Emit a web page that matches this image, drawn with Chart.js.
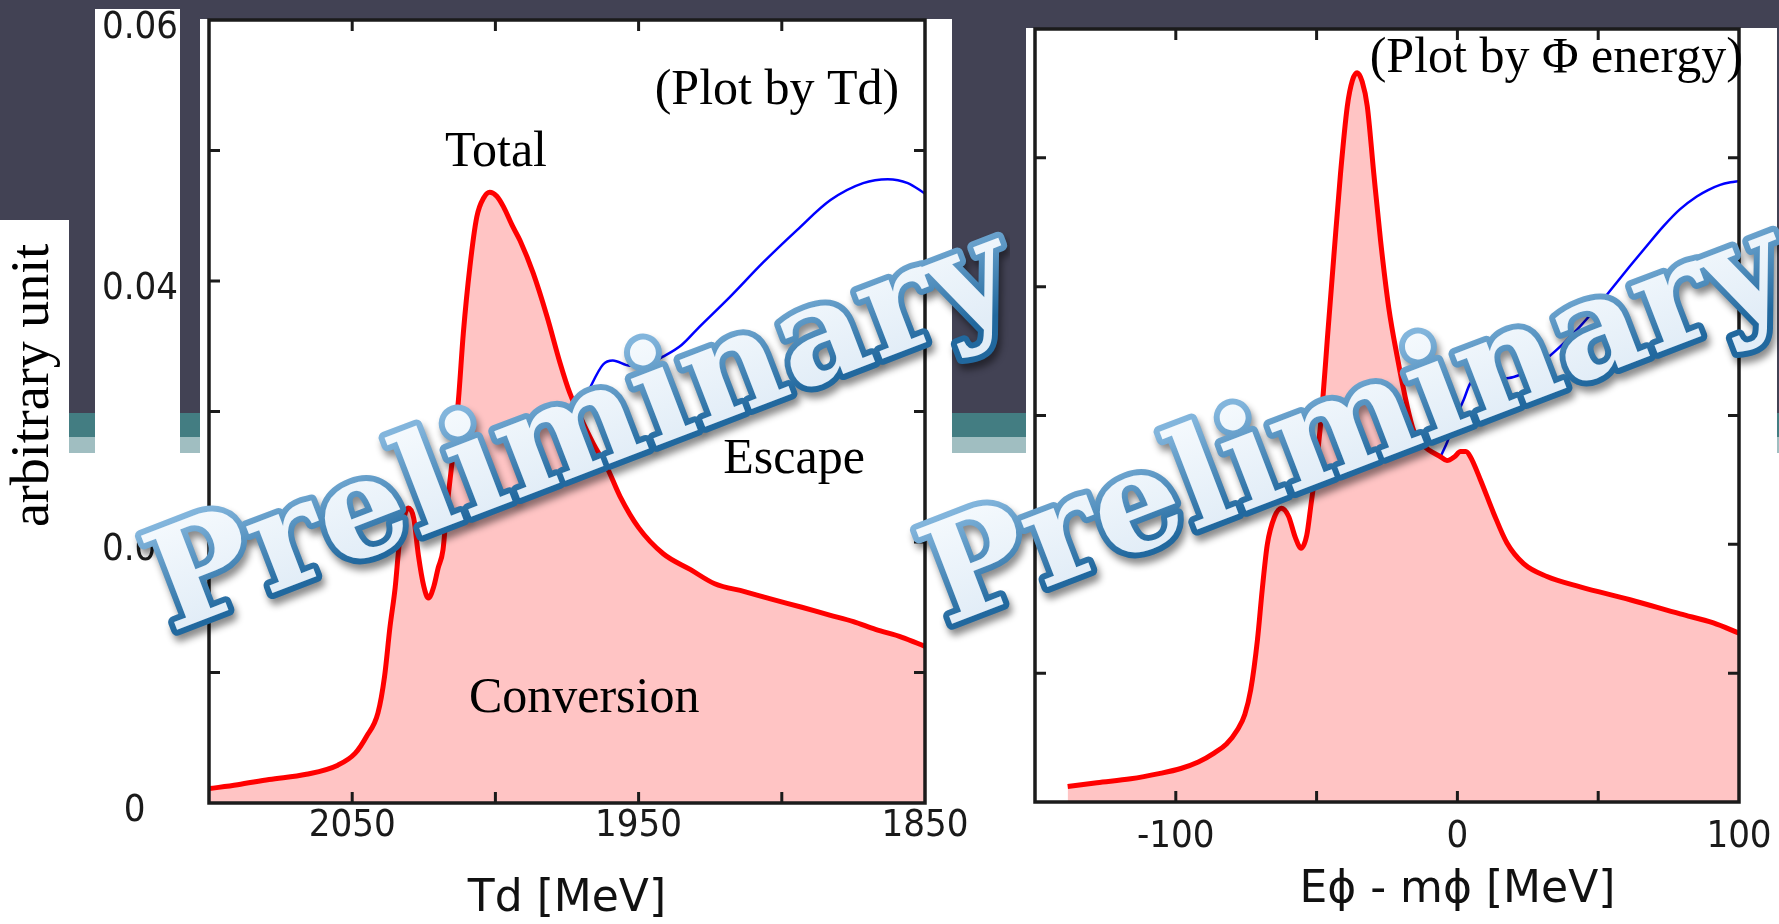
<!DOCTYPE html>
<html>
<head>
<meta charset="utf-8">
<title>Td / Phi energy spectra</title>
<script src="https://cdn.jsdelivr.net/npm/chart.js@4.4.1/dist/chart.umd.min.js"></script>
<style>
    html, body { margin: 0; padding: 0; background: #fff; }
    #slide { position: relative; width: 1779px; height: 924px; overflow: hidden; background: #fff; }
    .bg { position: absolute; }
    canvas { position: absolute; top: 0; }
</style>
</head>
<body>
<div id="slide">
    <div class="bg" style="left:0;top:0;width:1779px;height:413px;background:#424254"></div>
    <div class="bg" style="left:0;top:413px;width:1779px;height:24px;background:#437d82"></div>
    <div class="bg" style="left:0;top:437px;width:1779px;height:16px;background:#a0bec1"></div>
    <div class="bg" style="left:0;top:220px;width:69px;height:300px;background:#fff"></div>
    <div class="bg" style="left:95px;top:9px;width:85px;height:500px;background:#fff"></div>
    <div class="bg" style="left:200px;top:19px;width:752px;height:500px;background:#fff"></div>
    <div class="bg" style="left:1026px;top:28px;width:751px;height:500px;background:#fff"></div>
    <canvas id="td" width="1010" height="924" style="left:0"></canvas>
    <canvas id="phi" width="899" height="924" style="left:880px"></canvas>
</div>
<script>
// ---- left plot: by Td [MeV] (axis runs 2100 -> 1850)
const tdX = [2100, 2090, 2079, 2066, 2055, 2049, 2045, 2041, 2038.7, 2036.8, 2035, 2033.5, 2031.5, 2030.4,
    2028.5, 2026.9, 2025, 2023.4, 2021.5, 2020, 2018.3, 2017, 2015.3, 2012.9, 2011.2, 2008.9, 2006.5,
    2004, 2002, 1999.5, 1997.2, 1994, 1991.4, 1986.8, 1982, 1977.4, 1974, 1969.3, 1965, 1961.2, 1956.5,
    1950, 1941.4, 1932, 1923.4, 1913, 1903.3, 1893, 1883.3, 1875, 1867.3, 1858, 1850];
const tdConversion = [0.0011, 0.0014, 0.0018, 0.0022, 0.0029, 0.0038, 0.0051, 0.0069, 0.0097, 0.0135,
    0.0165, 0.0200, 0.0222, 0.0226, 0.0218, 0.0190, 0.0166, 0.0157, 0.0166, 0.0180, 0.0194, 0.0225,
    0.0258, 0.0309, 0.0360, 0.0411, 0.0449, 0.0464, 0.0468, 0.0465, 0.0457, 0.0442, 0.0431, 0.0406,
    0.0373, 0.0337, 0.0314, 0.0291, 0.0272, 0.0258, 0.0235, 0.0211, 0.0191, 0.0179, 0.0168, 0.0162,
    0.0156, 0.0150, 0.0144, 0.0139, 0.0133, 0.0127, 0.0120];
const tdTotalX = [1971, 1967, 1962.4, 1959, 1953, 1947, 1941.5, 1935, 1929.6, 1918, 1906.6, 1894.7,
    1883, 1871.6, 1863, 1856, 1850];
const tdTotal = [0.0299, 0.0318, 0.0336, 0.0339, 0.0335, 0.0336, 0.0342, 0.0351, 0.0363, 0.0388,
    0.0414, 0.0439, 0.0462, 0.0475, 0.0478, 0.0475, 0.0467];
const tdTickLabels = [2050, 1950, 1850];

// ---- right plot: by E_phi - m_phi [MeV]
const phiX = [-138.4, -128, -116, -106, -98.2, -92, -86.4, -82, -78.1, -75.5, -73.4, -71, -69.3, -67.5,
    -65, -62.5, -60, -57.5, -55.5, -53.5, -52.1, -49.8, -48, -46.2, -43.9, -41.5, -39.1, -37.3, -35.6,
    -33.8, -32, -29.7, -27.3, -24.4, -21.4, -17.8, -15.5, -13.1, -10, -6, -3.7, -1, 1.1, 3, 4.6, 8.2,
    12.9, 17.6, 23.5, 31.8, 43.6, 61.3, 79.1, 90.9, 100];
const phiConversion = [0.0012, 0.0015, 0.0018, 0.0022, 0.0026, 0.0031, 0.0038, 0.0045, 0.0056, 0.0068,
    0.0087, 0.0126, 0.0165, 0.0200, 0.0221, 0.0228, 0.0222, 0.0205, 0.0197, 0.0207, 0.0229, 0.0268,
    0.0307, 0.0359, 0.0423, 0.0488, 0.0540, 0.0560, 0.0566, 0.0559, 0.0540, 0.0488, 0.0436, 0.0384,
    0.0346, 0.0307, 0.0288, 0.0279, 0.0273, 0.0268, 0.0265, 0.0268, 0.0272, 0.0272, 0.0268, 0.0250,
    0.0224, 0.0201, 0.0185, 0.0175, 0.0167, 0.0157, 0.0146, 0.0139, 0.0131];
const phiTotalX = [-6, -3.5, -1.3, 1, 2.2, 4.6, 8, 11.7, 17.6, 21.5, 25.9, 31, 37.7, 43.5, 49.5, 55,
    61.3, 67, 73.2, 79, 85, 89, 93.3, 97, 100];
const phiTotal = [0.0268, 0.0280, 0.0294, 0.0306, 0.0312, 0.0325, 0.0329, 0.0330, 0.0329, 0.0331,
    0.0335, 0.0343, 0.0356, 0.0369, 0.0384, 0.0399, 0.0416, 0.0431, 0.0447, 0.0460, 0.0470, 0.0475,
    0.0479, 0.0481, 0.0482];
const phiTickLabels = [-100, 0, 100];

const yTickLabels = [0, 0.02, 0.04, 0.06];

const serif = '"Liberation Serif", "Times New Roman", serif';
const narrow = '"Liberation Sans Narrow", "DejaVu Sans Condensed", sans-serif';

function pts(xs, ys) {
    return xs.map((x, i) => ({ x: x, y: ys[i] }));
}

function yLabel(v) {
    var hit = yTickLabels.find(t => Math.abs(t - v) < 1e-6);
    if (hit === undefined) return '';
    // the zero sits further left on the slide, pad it
    return hit === 0 ? '0   ' : hit.toFixed(2);
}

// frame with inward ticks on all four sides, notes in data coords, watermark
const slidePlugin = {
    id: 'slide',
    afterDraw(chart, args, opts) {
        const ctx = chart.ctx;
        const a = chart.chartArea;
        const xs = chart.scales.x, ys = chart.scales.y;
        ctx.save();
        ctx.strokeStyle = '#1b1b1b';
        ctx.lineWidth = 3;
        ctx.beginPath();
        xs.ticks.forEach(t => {
            var px = xs.getPixelForValue(t.value);
            if (px < a.left + 3 || px > a.right - 3) return;
            ctx.moveTo(px, a.bottom); ctx.lineTo(px, a.bottom - 11);
            ctx.moveTo(px, a.top); ctx.lineTo(px, a.top + 11);
        });
        ys.ticks.forEach(t => {
            var py = ys.getPixelForValue(t.value);
            if (py < a.top + 3 || py > a.bottom - 3) return;
            ctx.moveTo(a.left, py); ctx.lineTo(a.left + 11, py);
            ctx.moveTo(a.right, py); ctx.lineTo(a.right - 11, py);
        });
        ctx.stroke();
        ctx.lineWidth = 3.5;
        ctx.strokeRect(a.left, a.top, a.right - a.left, a.bottom - a.top);

        ctx.textAlign = 'center';
        ctx.textBaseline = 'middle';
        opts.notes.forEach(n => {
            ctx.save();
            ctx.font = n.font;
            ctx.fillStyle = n.color || '#000';
            ctx.translate(xs.getPixelForValue(n.x), ys.getPixelForValue(n.y));
            if (n.rotate) ctx.rotate(n.rotate * Math.PI / 180);
            ctx.fillText(n.text, 0, 0);
            ctx.restore();
        });

        // "Preliminary" stamp
        var w = opts.stamp;
        ctx.translate(w.x, w.y);
        ctx.rotate(-w.angle * Math.PI / 180);
        ctx.font = 'bold ' + w.size + 'px "DejaVu Serif", serif';
        ctx.textAlign = 'left';
        ctx.textBaseline = 'alphabetic';
        ctx.lineJoin = 'round';
        var g = ctx.createLinearGradient(0, -w.size * 0.75, 0, 0);
        g.addColorStop(0, '#82b5dc');
        g.addColorStop(1, '#21689e');
        ctx.shadowColor = 'rgba(0,0,0,0.45)';
        ctx.shadowBlur = 7;
        ctx.shadowOffsetX = 3;
        ctx.shadowOffsetY = 6;
        ctx.lineWidth = 12;
        ctx.strokeStyle = g;
        ctx.strokeText('Preliminary', 0, 0);
        ctx.shadowColor = 'rgba(0,0,0,0)';
        var f = ctx.createLinearGradient(0, -w.size * 0.75, 0, 0);
        f.addColorStop(0, '#f4f9fd');
        f.addColorStop(1, '#e2edf7');
        ctx.fillStyle = f;
        ctx.fillText('Preliminary', 0, 0);
        ctx.restore();
    }
};

function makeChart(id, cfg) {
    return new Chart(document.getElementById(id), {
        type: 'line',
        data: {
            datasets: [{
                label: 'Conversion',
                data: cfg.conv,
                borderColor: '#ff0000',
                borderWidth: 5,
                backgroundColor: '#ffc4c4',
                fill: 'origin',
                pointRadius: 0,
                cubicInterpolationMode: 'monotone'
            }, {
                label: 'Total',
                data: cfg.total,
                borderColor: '#0000ff',
                borderWidth: 2.5,
                fill: false,
                pointRadius: 0,
                cubicInterpolationMode: 'monotone'
            }]
        },
        options: {
            responsive: false,
            animation: false,
            events: [],
            layout: { padding: cfg.padding },
            plugins: {
                legend: { display: false },
                tooltip: { enabled: false },
                slide: { notes: cfg.notes, stamp: cfg.stamp }
            },
            scales: {
                x: {
                    type: 'linear',
                    min: cfg.xmin,
                    max: cfg.xmax,
                    reverse: cfg.reverse,
                    grid: { display: false, drawTicks: false },
                    border: { display: false },
                    afterFit: s => {
                        s.height = cfg.xHeight;
                        s.paddingLeft = 0;
                        s.paddingRight = 0;
                    },
                    ticks: {
                        stepSize: 50,
                        autoSkip: false,
                        maxRotation: 0,
                        padding: cfg.xPad,
                        color: '#1a1a1a',
                        font: { family: narrow, size: 38 },
                        callback: v => cfg.xLabels.includes(v) ? String(v) : ''
                    },
                    title: cfg.xTitle
                },
                y: {
                    min: 0,
                    max: 0.06,
                    grid: { display: false, drawTicks: false },
                    border: { display: false },
                    afterFit: s => {
                        s.width = cfg.yWidth;
                        s.paddingTop = 0;
                        s.paddingBottom = 0;
                    },
                    ticks: {
                        display: cfg.yTicks,
                        stepSize: 0.01,
                        autoSkip: false,
                        padding: 31,
                        labelOffset: 8,
                        color: '#1a1a1a',
                        font: { family: narrow, size: 38, lineHeight: 1 },
                        callback: yLabel
                    }
                }
            }
        },
        plugins: [slidePlugin]
    });
}

makeChart('td', {
    conv: pts(tdX, tdConversion),
    total: pts(tdTotalX, tdTotal),
    xmin: 1850, xmax: 2100, reverse: true,
    xLabels: tdTickLabels,
    xPad: 0,
    xHeight: 121,
    yWidth: 209,
    yTicks: true,
    padding: { top: 20, right: 85, left: 0, bottom: 0 },
    xTitle: {
        display: true, text: 'Td [MeV]', color: '#111',
        font: { family: '"DejaVu Sans", sans-serif', size: 44, lineHeight: 1 },
        padding: { top: 0, bottom: 2 }
    },
    notes: [
        { text: 'arbitrary unit', x: 2161, y: 0.032, rotate: -90, font: '54px ' + serif },
        { text: '(Plot by Td)', x: 1901.7, y: 0.0546, font: '50px ' + serif },
        { text: 'Total', x: 1999.8, y: 0.0498, font: '50px ' + serif },
        { text: 'Escape', x: 1895.7, y: 0.0263, font: '50px ' + serif },
        { text: 'Conversion', x: 1969, y: 0.0080, font: '50px ' + serif }
    ],
    stamp: { x: 171, y: 632, angle: 21, size: 138 }
});

makeChart('phi', {
    conv: pts(phiX, phiConversion),
    total: pts(phiTotalX, phiTotal),
    xmin: -150, xmax: 100, reverse: false,
    xLabels: phiTickLabels,
    xPad: 12,
    xHeight: 122,
    yWidth: 155,
    yTicks: false,
    padding: { top: 29, right: 40, left: 0, bottom: 0 },
    xTitle: { display: false },
    notes: [
        { text: '(Plot by \u03a6 energy)', x: 35.1, y: 0.0577, font: '50px ' + serif },
        { text: 'E\u03d5 - m\u03d5 [MeV]', x: 0, y: -0.0069, font: '44px "DejaVu Sans", sans-serif', color: '#111' }
    ],
    stamp: { x: 66, y: 626, angle: 21, size: 138 }
});
</script>
</body>
</html>
